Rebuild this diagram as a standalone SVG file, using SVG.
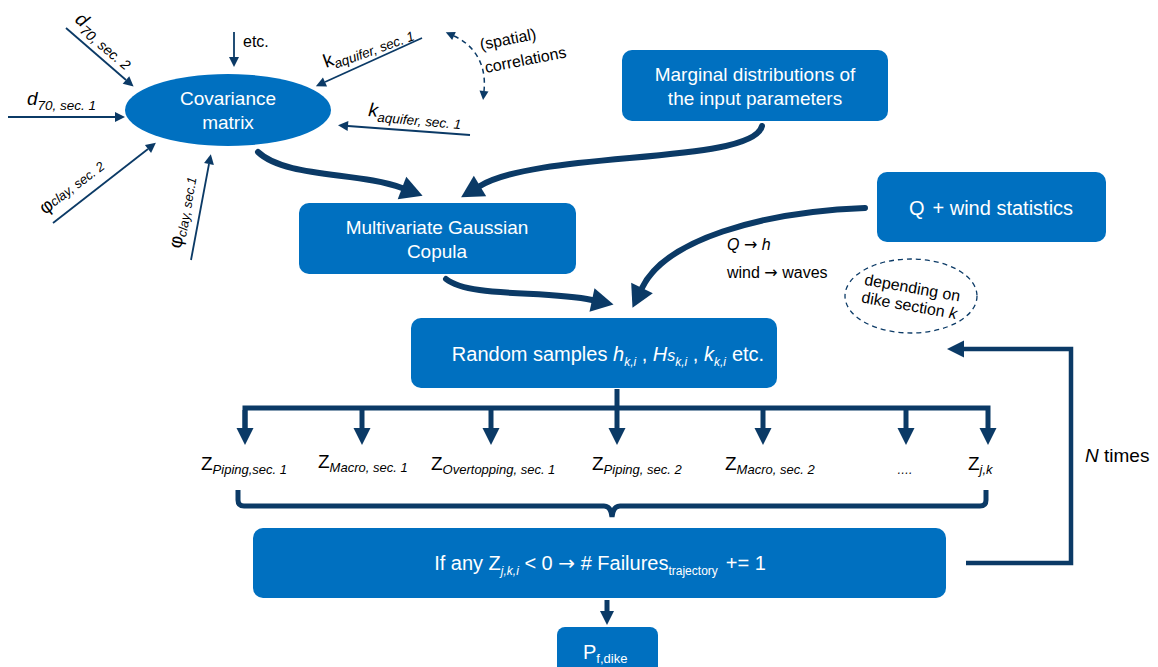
<svg xmlns="http://www.w3.org/2000/svg" width="1158" height="667" viewBox="0 0 1158 667">
<style>
.box{fill:#0070C0;}
.wt{fill:#ffffff;font-family:"Liberation Sans",Arial,sans-serif;font-size:19px;}
.bt{fill:#000000;font-family:"Liberation Sans",Arial,sans-serif;}
.it{font-style:italic;}
.arr{font-family:"DejaVu Sans",sans-serif;}
.thick{fill:none;stroke:#0B3A66;stroke-width:6;stroke-linecap:round;}
.branch{fill:none;stroke:#0B3A66;stroke-width:5;}
.thin{fill:none;stroke:#0B3A66;stroke-width:1.8;}
.dash{fill:none;stroke:#0B3A66;stroke-width:1.5;stroke-dasharray:5,4;}
</style>
<defs>
<marker id="big" markerUnits="userSpaceOnUse" markerWidth="30" markerHeight="30" refX="0" refY="0" viewBox="-2 -15 28 30" orient="auto"><path d="M0,-12 L22,0 L0,12 z" fill="#0B3A66"/></marker>
<marker id="mid" markerUnits="userSpaceOnUse" markerWidth="22" markerHeight="22" refX="0" refY="0" viewBox="-2 -11 22 22" orient="auto"><path d="M0,-8.5 L17,0 L0,8.5 z" fill="#0B3A66"/></marker>
<marker id="sm" markerUnits="userSpaceOnUse" markerWidth="18" markerHeight="18" refX="0" refY="0" viewBox="-2 -9 18 18" orient="auto"><path d="M0,-7 L14,0 L0,7 z" fill="#0B3A66"/></marker>
<marker id="thin" markerUnits="userSpaceOnUse" markerWidth="14" markerHeight="14" refX="0" refY="0" viewBox="-1 -7 14 14" orient="auto"><path d="M0,-5 L10,0 L0,5 z" fill="#0B3A66"/></marker>
<marker id="thin2" markerUnits="userSpaceOnUse" markerWidth="14" markerHeight="14" refX="0" refY="0" viewBox="-1 -7 14 14" orient="auto-start-reverse"><path d="M0,-4.5 L9,0 L0,4.5 z" fill="#0B3A66"/></marker>
</defs>

<g id="connectors">
<path class="thin" d="M66,28 L126,80" marker-end="url(#thin)"/>
<path class="thin" d="M8,117 L115,117" marker-end="url(#thin)"/>
<path class="thin" d="M53,223 L148,149" marker-end="url(#thin)"/>
<path class="thin" d="M191,260 L209,164" marker-end="url(#thin)"/>
<path class="thin" d="M234,32 L234,57" marker-end="url(#thin)"/>
<path class="thin" d="M422,38 L325,82" marker-end="url(#thin)"/>
<path class="thin" d="M470,135 L348,126" marker-end="url(#thin)"/>
<path class="dash" d="M454,36 C472,44 487,62 484,91" marker-start="url(#thin2)" marker-end="url(#thin2)"/>
<path class="thick" d="M258,152 C285,178 360,172 402,188" marker-end="url(#big)"/>
<path class="thick" d="M762,126 C752,165 540,150 480,186" marker-end="url(#big)"/>
<path class="thick" d="M446,279 C470,298 545,290 592,300" marker-end="url(#big)"/>
<path class="thick" d="M865,208 C760,212 665,240 642,288" marker-end="url(#big)"/>
<path class="branch" d="M245,428 L245,408 L988,408 L988,428" marker-end="url(#mid)"/>
<path class="branch" d="M245,410 L245,428" marker-end="url(#mid)"/>
<path class="branch" d="M362,408 L362,428" marker-end="url(#mid)"/>
<path class="branch" d="M491,408 L491,428" marker-end="url(#mid)"/>
<path class="branch" d="M617,389 L617,428" marker-end="url(#mid)"/>
<path class="branch" d="M763,408 L763,428" marker-end="url(#mid)"/>
<path class="branch" d="M906,408 L906,428" marker-end="url(#mid)"/>
<path class="branch" d="M238,490 V500 Q238,506 244,506 H604 Q611,506 612,517 Q613,506 620,506 H980 Q986,506 986,500 V490"/>
<path fill="none" stroke="#0B3A66" stroke-width="4.5" d="M966,563 L1071,563 L1071,349 L964,349" marker-end="url(#mid)"/>
<path class="branch" d="M607,600 L607,611" marker-end="url(#sm)"/>
</g>

<g id="covariance">
<ellipse cx="228" cy="110" rx="103" ry="36" class="box"/>
<text class="wt" x="228" y="105" text-anchor="middle">Covariance</text>
<text class="wt" x="228" y="129" text-anchor="middle">matrix</text>
</g>

<g id="marginal">
<rect x="622" y="50" width="266" height="71" rx="10" class="box"/>
<text class="wt" x="755" y="81" text-anchor="middle">Marginal distributions of</text>
<text class="wt" x="755" y="105" text-anchor="middle">the input parameters</text>
</g>

<g id="copula">
<rect x="299" y="203" width="277" height="71" rx="10" class="box"/>
<text class="wt" x="437" y="234" text-anchor="middle">Multivariate Gaussian</text>
<text class="wt" x="437" y="258" text-anchor="middle">Copula</text>
</g>

<g id="qwind">
<rect x="877" y="172" width="229" height="70" rx="10" class="box"/>
<text class="wt" x="991" y="215" text-anchor="middle" style="font-size:20px">Q<tspan dx="8">+ wind statistics</tspan></text>
</g>

<g id="samples">
<rect x="411" y="318" width="366" height="70" rx="10" class="box"/>
<text class="wt" x="608" y="361" text-anchor="middle" style="font-size:20px">Random samples <tspan class="it">h</tspan><tspan class="it" font-size="12" dy="5">k,i</tspan><tspan dy="-5"> , </tspan><tspan class="it">H</tspan><tspan class="it" font-size="16">s</tspan><tspan class="it" font-size="12" dy="5">k,i</tspan><tspan dy="-5"> , </tspan><tspan class="it">k</tspan><tspan class="it" font-size="12" dy="5">k,i</tspan><tspan dy="-5" dx="6">etc.</tspan></text>
</g>

<g id="failures">
<rect x="253" y="528" width="693" height="70" rx="10" class="box"/>
<text class="wt" x="600" y="570" text-anchor="middle" style="font-size:20px">If any Z<tspan class="it" font-size="12" dy="5">j,k,i</tspan><tspan dy="-5"> &lt; 0  </tspan><tspan class="arr" font-size="20">→</tspan><tspan> # Failures</tspan><tspan font-size="12" dy="5">trajectory</tspan><tspan dy="-5" dx="8">+= 1</tspan></text>
</g>

<g id="pfdike">
<rect x="557" y="627" width="101" height="60" rx="8" class="box"/>
<text class="wt" x="583" y="659" style="font-size:20px">P<tspan font-size="13" dy="4">f,dike</tspan></text>
</g>

<g id="labels">
<text class="bt" transform="translate(74,21) rotate(40)" font-size="19"><tspan class="it">d</tspan><tspan class="it" font-size="14" dy="5">70, sec. 2</tspan></text>
<text class="bt" x="27" y="105" font-size="19"><tspan class="it">d</tspan><tspan class="it" font-size="13.5" dy="5">70, sec. 1</tspan></text>
<text class="bt" transform="translate(45,215) rotate(-37)" font-size="19">φ<tspan class="it" font-size="13" dy="-1">clay, sec. 2</tspan></text>
<text class="bt" transform="translate(181,249) rotate(-80)" font-size="19">φ<tspan class="it" font-size="13" dy="3">clay, sec.1</tspan></text>
<text class="bt" x="243" y="47" font-size="16">etc.</text>
<text class="bt" transform="translate(326,68) rotate(-20)" font-size="19"><tspan>k</tspan><tspan class="it" font-size="13.5" dy="4">aquifer, sec. 1</tspan></text>
<text class="bt" transform="translate(368,116) rotate(5)" font-size="19"><tspan class="it">k</tspan><tspan class="it" font-size="13.5" dy="5">aquifer, sec. 1</tspan></text>
<text class="bt" transform="translate(481,50) rotate(-11)" font-size="16">(spatial)</text>
<text class="bt" transform="translate(486,73) rotate(-11)" font-size="16">correlations</text>
<text class="bt" x="727" y="250" font-size="16"><tspan class="it">Q</tspan> <tspan class="arr" font-size="16">→</tspan> <tspan class="it">h</tspan></text>
<text class="bt" x="727" y="278" font-size="16">wind <tspan class="arr" font-size="16">→</tspan> waves</text>
<ellipse cx="911" cy="296" rx="66" ry="37" fill="none" stroke="#0B3A66" stroke-width="1.3" stroke-dasharray="5,4"/>
<g transform="translate(911,296) rotate(10)">
<text class="bt" x="0" y="-3" font-size="16" text-anchor="middle">depending on</text>
<text class="bt" x="0" y="15" font-size="16" text-anchor="middle">dike section <tspan class="it">k</tspan></text>
</g>
<text class="bt" x="1085" y="462" font-size="19"><tspan class="it">N</tspan> times</text>
<text class="bt" x="201" y="470" font-size="19">Z<tspan class="it" font-size="13" dy="4">Piping,sec. 1</tspan></text>
<text class="bt" x="318" y="468" font-size="19">Z<tspan class="it" font-size="13" dy="4">Macro, sec. 1</tspan></text>
<text class="bt" x="431" y="470" font-size="19">Z<tspan class="it" font-size="13" dy="4">Overtopping, sec. 1</tspan></text>
<text class="bt" x="592" y="470" font-size="19">Z<tspan class="it" font-size="13" dy="4">Piping, sec. 2</tspan></text>
<text class="bt" x="725" y="470" font-size="19">Z<tspan class="it" font-size="13" dy="4">Macro, sec. 2</tspan></text>
<text class="bt it" x="897" y="474" font-size="12">….</text>
<text class="bt" x="968" y="470" font-size="19">Z<tspan class="it" font-size="13" dy="4">j,k</tspan></text>
</g>
</svg>
